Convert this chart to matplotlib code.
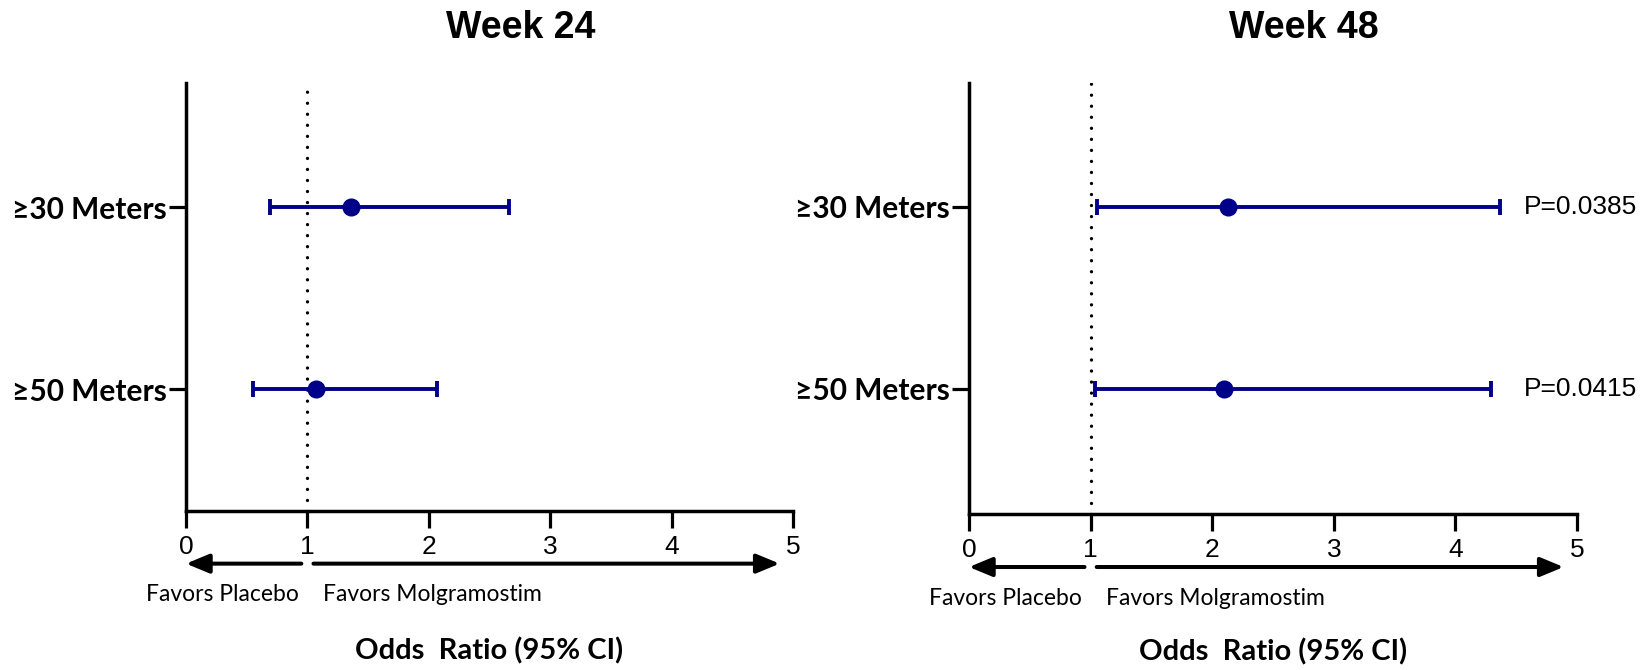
import matplotlib
matplotlib.use("Agg")
import matplotlib.pyplot as plt

# ---------------- data ----------------
categories = ["≥30 Meters", "≥50 Meters"]
panel_titles = ["Week 24", "Week 48"]
week24_or = [1.36, 1.07]
week24_lo = [0.69, 0.55]
week24_hi = [2.66, 2.07]
week48_or = [2.13, 2.10]
week48_lo = [1.05, 1.04]
week48_hi = [4.37, 4.29]
week48_p = ["P=0.0385", "P=0.0415"]
x_ticks = [0, 1, 2, 3, 4, 5]
favors_left = "Favors Placebo"
favors_right = "Favors Molgramostim"
x_label = "Odds  Ratio (95% CI)"

NAVY = "#000088"
W, H = 1644, 670
fig = plt.figure(figsize=(W / 100, H / 100), dpi=100)

# axes rectangles in pixels: (left, top, right, bottom)
rects = [(186, 83, 793, 511), (969, 83, 1577, 514)]
title_x = [521, 1304]
xlabel_y = [651, 652]
ypos = [1, 0]
row_px = (207, 389)

panels = [
    (week24_or, week24_lo, week24_hi, None),
    (week48_or, week48_lo, week48_hi, week48_p),
]

cat_font = ["Lato", "DejaVu Sans"]

for i, ((l, t, r, b), (orr, lo, hi, pv)) in enumerate(zip(rects, panels)):
    ax = fig.add_axes([l / W, 1 - b / H, (r - l) / W, (b - t) / H])
    unit = row_px[1] - row_px[0]
    ax.set_ylim(-(b - row_px[1]) / unit, 1 + (row_px[0] - t) / unit)
    ax.set_xlim(0, 5)
    for s in ["top", "right"]:
        ax.spines[s].set_visible(False)
    for s in ["left", "bottom"]:
        ax.spines[s].set_linewidth(2.5)
        ax.spines[s].set_capstyle("projecting")
    ax.set_xticks(x_ticks)
    ax.set_xticklabels([str(v) for v in x_ticks], fontsize=19,
                       family="Liberation Sans")
    ax.set_yticks(ypos)
    ax.set_yticklabels(categories, fontsize=21.5, fontweight="bold",
                       family=cat_font)
    ax.tick_params(axis="both", length=12, width=2.3, direction="out")
    ax.tick_params(axis="x", pad=5)
    ax.tick_params(axis="y", pad=2)

    ax.axvline(1, color="black", lw=2.4, ls=(0, (0.01, 3.3)),
               dash_capstyle="round", zorder=1)

    xerr = [[o - a for o, a in zip(orr, lo)], [c - o for o, c in zip(orr, hi)]]
    ax.errorbar(orr, ypos, xerr=xerr, fmt="o", color=NAVY, ms=12,
                elinewidth=2.8, capsize=5.5, capthick=2.8, zorder=3,
                clip_on=False)

    if pv is not None:
        for yy, txt in zip(ypos, pv):
            ax.text(4.56, yy, txt, fontsize=19, family="Liberation Sans",
                    va="center", ha="left", clip_on=False)

    fig.text(title_x[i] / W, 1 - 28 / H, panel_titles[i], fontsize=27,
             fontweight="bold", family="Liberation Sans",
             ha="center", va="center")

    tr = ax.get_xaxis_transform()
    y_arrow = -0.123
    ap = dict(arrowstyle="-|>,head_length=14,head_width=5.8", lw=2.9,
              color="black", shrinkA=0, shrinkB=0, mutation_scale=1)
    ax.annotate("", xy=(0.0, y_arrow), xytext=(0.95, y_arrow),
                xycoords=tr, textcoords=tr, arrowprops=ap, annotation_clip=False)
    ax.annotate("", xy=(4.89, y_arrow), xytext=(1.05, y_arrow),
                xycoords=tr, textcoords=tr, arrowprops=ap, annotation_clip=False)

    y_fav = -0.195
    ax.text(0.93, y_fav, favors_left, transform=tr, ha="right", va="center",
            fontsize=16.5, family="Lato", clip_on=False)
    ax.text(1.13, y_fav, favors_right, transform=tr, ha="left", va="center",
            fontsize=16.5, family="Lato", clip_on=False)
    fig.text((l + r) / 2 / W, 1 - xlabel_y[i] / H, x_label, ha="center",
             va="center", fontsize=21, fontweight="bold", family="Lato")

fig.savefig("out.png", dpi=100)
